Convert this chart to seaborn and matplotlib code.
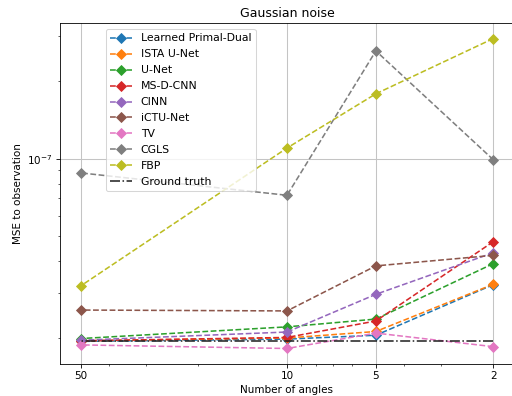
import matplotlib
matplotlib.use("Agg")
import matplotlib.pyplot as plt
import matplotlib.ticker as mticker
import seaborn as sns
import pandas as pd

# Number of projection angles and mean squared error to the observation
angles = [50, 10, 5, 2]
lpd = [1.94e-8, 1.98e-8, 2.05e-8, 3.23e-8]
ista_unet = [1.95e-8, 2.00e-8, 2.12e-8, 3.24e-8]
unet = [1.99e-8, 2.21e-8, 2.37e-8, 3.90e-8]
msd_cnn = [1.95e-8, 2.01e-8, 2.33e-8, 4.75e-8]
cinn = [1.96e-8, 2.11e-8, 2.96e-8, 4.30e-8]
ictu_net = [2.57e-8, 2.55e-8, 3.82e-8, 4.20e-8]
tv = [1.88e-8, 1.82e-8, 2.09e-8, 1.85e-8]
cgls = [8.8e-8, 7.2e-8, 2.63e-7, 9.9e-8]
fbp = [3.19e-8, 1.10e-7, 1.79e-7, 2.94e-7]
ground_truth = [1.95e-8, 1.95e-8, 1.95e-8, 1.95e-8]

methods = ["Learned Primal-Dual", "ISTA U-Net", "U-Net", "MS-D-CNN", "CINN",
           "iCTU-Net", "TV", "CGLS", "FBP"]
values = [lpd, ista_unet, unet, msd_cnn, cinn, ictu_net, tv, cgls, fbp]
tick_labels = ["50", "10", "5", "2"]

plt.rcParams["font.family"] = ["DejaVu Sans"]
plt.rcParams["font.size"] = 10

DPI = 75
fig = plt.figure(figsize=(512 / DPI, 396 / DPI), dpi=DPI)
ax = fig.add_axes([60 / 512, 32 / 396, 454 / 512, 341 / 396])

palette = sns.color_palette("tab10", len(methods))
for name, vals, color in zip(methods, values, palette):
    df = pd.DataFrame({"angles": angles, "mse": vals})
    sns.lineplot(data=df, x="angles", y="mse", ax=ax, color=color,
                 linestyle="--", marker="D", markersize=7,
                 markeredgecolor=color, markeredgewidth=0.8,
                 linewidth=1.5, label=name)

gt_df = pd.DataFrame({"angles": angles, "mse": ground_truth})
sns.lineplot(data=gt_df, x="angles", y="mse", ax=ax, color="#222222",
             linestyle="-.", linewidth=1.5, label="Ground truth")

ax.set_xscale("log")
ax.set_yscale("log")
ax.invert_xaxis()
ax.set_xticks(angles)
ax.set_xticklabels(tick_labels)
ax.xaxis.set_minor_formatter(mticker.NullFormatter())
ax.yaxis.set_minor_formatter(mticker.NullFormatter())

ax.grid(True, which="major", color="#c4c4c4", linewidth=1.0)
ax.set_axisbelow(True)

ax.set_title("Gaussian noise", fontsize=12)
ax.set_xlabel("Number of angles")
ax.set_ylabel("MSE to observation")

ax.legend(loc="upper left", bbox_to_anchor=(0.1015, 0.982),
          borderaxespad=0, framealpha=0.8, edgecolor="#cccccc",
          fontsize=10.4, labelspacing=0.55)

fig.savefig("out.png", dpi=DPI)
